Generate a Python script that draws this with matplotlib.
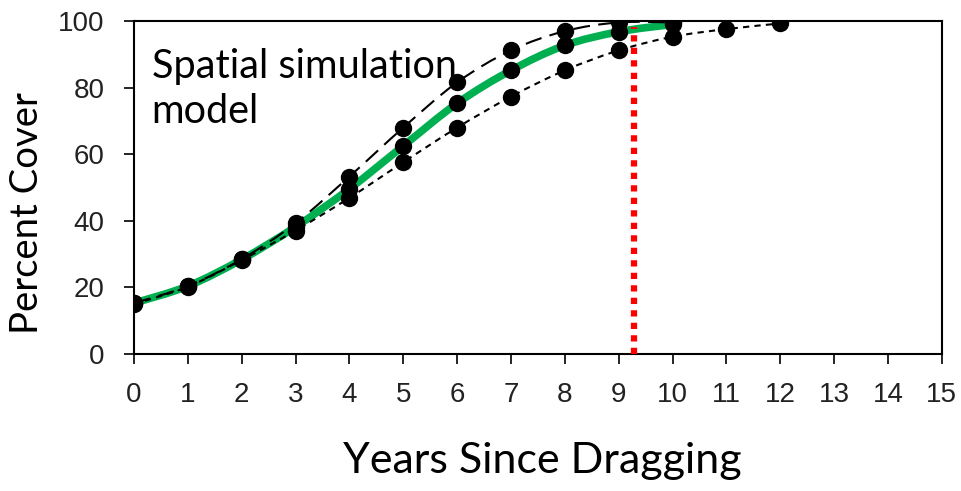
import matplotlib
matplotlib.use("Agg")
import matplotlib.pyplot as plt
from matplotlib.path import Path
from matplotlib.patches import PathPatch

years_mid = [0, 1, 2, 3, 4, 5, 6, 7, 8, 9, 10]
cover_mid = [15.3, 20.4, 28.4, 38.2, 49.6, 62.5, 75.3, 85.2, 92.7, 96.8, 99.0]

years_upper = [0, 1, 2, 3, 4, 5, 6, 7, 8, 9, 10]
cover_upper = [15.3, 20.4, 28.5, 39.3, 53.3, 68.0, 81.6, 91.2, 97.0, 99.6, 99.6]

years_lower = [0, 1, 2, 3, 4, 5, 6, 7, 8, 9, 10, 11, 12]
cover_lower = [15.0, 20.2, 28.2, 37.1, 46.9, 57.6, 68.0, 77.3, 85.2, 91.2, 95.3, 97.6, 99.3]

threshold_year = 9.28
threshold_top = 98.3

x_ticks = list(range(0, 16))
y_ticks = [0, 20, 40, 60, 80, 100]


def smooth_path(xs, ys):
    """Catmull-Rom style smoothed path through the points (like Excel's smoothed line)."""
    pts = list(zip(xs, ys))
    verts = [pts[0]]
    codes = [Path.MOVETO]
    n = len(pts)
    for i in range(n - 1):
        p0 = pts[i - 1] if i > 0 else pts[i]
        p1 = pts[i]
        p2 = pts[i + 1]
        p3 = pts[i + 2] if i + 2 < n else pts[i + 1]
        c1 = (p1[0] + (p2[0] - p0[0]) / 6.0, p1[1] + (p2[1] - p0[1]) / 6.0)
        c2 = (p2[0] - (p3[0] - p1[0]) / 6.0, p2[1] - (p3[1] - p1[1]) / 6.0)
        verts += [c1, c2, p2]
        codes += [Path.CURVE4] * 3
    return Path(verts, codes)


fig = plt.figure(figsize=(9.61, 4.91), dpi=100)
ax = fig.add_axes([0.1394, 0.279, 0.8406, 0.678])

ax.add_patch(PathPatch(smooth_path(years_mid, cover_mid), fill=False,
                       edgecolor="#00B050", lw=5.5, capstyle="butt", zorder=2))
ax.add_patch(PathPatch(smooth_path(years_upper, cover_upper), fill=False,
                       edgecolor="black", lw=1.5, linestyle=(0, (8, 4)), zorder=3))
ax.add_patch(PathPatch(smooth_path(years_lower, cover_lower), fill=False,
                       edgecolor="black", lw=1.5, linestyle=(0, (3, 2.5)), zorder=3))
ax.plot(years_upper, cover_upper, "o", color="black", ms=11.5, zorder=4)
ax.plot(years_mid, cover_mid, "o", color="black", ms=11.5, zorder=4)
ax.plot(years_lower, cover_lower, "o", color="black", ms=11.5, zorder=4)

ax.plot([threshold_year, threshold_year], [0, threshold_top], color="#FF0000",
        lw=4.5, dashes=(1, 1), solid_capstyle="butt", dash_capstyle="butt", zorder=5)

ax.set_xlim(0, 15)
ax.set_ylim(0, 100)
ax.set_xticks(x_ticks)
ax.set_yticks(y_ticks)
for s in ax.spines.values():
    s.set_linewidth(1.5)
    s.set_color("black")
ax.tick_params(axis="both", direction="out", length=7, width=1.2, labelsize=20)
ax.tick_params(axis="x", pad=13)
ax.tick_params(axis="y", pad=14)
for lab in ax.get_xticklabels() + ax.get_yticklabels():
    lab.set_fontfamily("Liberation Sans")
    lab.set_color("#222222")

fig.text(542.5 / 961, (491 - 473) / 491, "Years Since Dragging", fontsize=31,
         family="Lato", ha="center", va="baseline")
fig.text(27 / 961, (491 - 213) / 491, "Percent Cover", fontsize=27.5,
         family="Lato", ha="center", va="center", rotation=90)

ax.text(0.022, 0.92, "Spatial simulation\nmodel", transform=ax.transAxes,
        fontsize=28.5, family="Lato", va="top", ha="left", linespacing=1.29)

fig.savefig("out.png", dpi=100)
